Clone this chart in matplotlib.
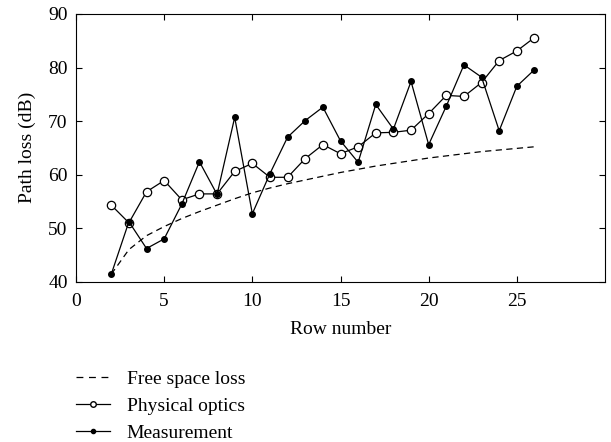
import matplotlib
matplotlib.use("Agg")
import matplotlib.pyplot as plt
from matplotlib.lines import Line2D

rows = list(range(2, 27))
free_space = [41.4, 46.0, 48.6, 50.3, 51.8, 53.1, 54.3, 55.5, 56.6, 57.5, 58.3, 59.0,
              59.7, 60.4, 61.0, 61.6, 62.1, 62.6, 63.1, 63.5, 63.9, 64.3, 64.6, 64.9, 65.2]
physical_optics = [54.3, 51.0, 56.8, 58.9, 55.3, 56.4, 56.4, 60.6, 62.1, 59.5, 59.5, 63.0,
                   65.6, 63.9, 65.2, 67.8, 67.9, 68.3, 71.4, 74.8, 74.6, 77.2, 81.3, 83.1, 85.6]
measurement = [41.4, 51.2, 46.2, 48.0, 54.5, 62.4, 56.3, 70.7, 52.7, 60.2, 67.0, 70.1,
               72.6, 66.3, 62.3, 73.1, 68.5, 77.4, 65.6, 72.8, 80.5, 78.2, 68.2, 76.5, 79.6]
xticks = [0, 5, 10, 15, 20, 25]
yticks = [40, 50, 60, 70, 80, 90]

plt.rcParams['font.family'] = ['Liberation Serif', 'DejaVu Serif']
FS = 14

fig = plt.figure(figsize=(6.11, 4.42), dpi=100)
ax = fig.add_axes([76/611, 1-281.7/442, (605-76)/611, (281.7-14)/442])

ax.plot(rows, free_space, linestyle=(0, (5, 3.5)), color='black', linewidth=0.9,
        label='Free space loss')
ax.plot(rows, physical_optics, '-o', color='black', linewidth=0.9, markersize=6,
        markerfacecolor='white', markeredgewidth=0.9, label='Physical optics')
ax.plot(rows, measurement, '-o', color='black', linewidth=0.9, markersize=4,
        markerfacecolor='black', label='Measurement')

ax.set_xlim(0, 30)
ax.set_ylim(40, 90)
ax.set_xticks(xticks)
ax.set_yticks(yticks)
ax.tick_params(direction='in', top=True, right=True, length=4, width=0.8,
               labelsize=FS)
ax.tick_params(axis='x', pad=8)
ax.tick_params(axis='y', pad=6)
for s in ax.spines.values():
    s.set_linewidth(0.8)
ax.set_xlabel('Row number', fontsize=FS, labelpad=8)
ax.set_ylabel('Path loss (dB)', fontsize=FS, labelpad=9)

handles = [
    Line2D([], [], linestyle=(0, (5.5, 4.5)), color='black', linewidth=0.9),
    Line2D([], [], linestyle='-', marker='o', color='black', linewidth=0.9, markersize=4,
           markerfacecolor='white'),
    Line2D([], [], linestyle='-', marker='o', color='black', linewidth=0.9, markersize=3,
           markerfacecolor='black'),
]
fig.legend(handles, ['Free space loss', 'Physical optics', 'Measurement'],
           loc='upper left', bbox_to_anchor=(76/611, 1-370/442), frameon=False,
           fontsize=FS, handlelength=1.75, handletextpad=0.85, labelspacing=0.5,
           borderaxespad=0, borderpad=0)

fig.savefig('out.png', dpi=100)
